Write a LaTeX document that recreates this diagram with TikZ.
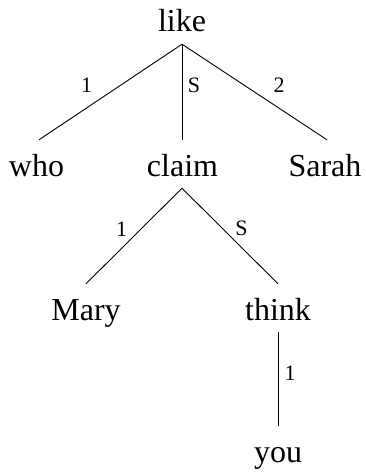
\documentclass[tikz,border=0pt]{standalone}
\usepackage{fontspec}
\setmainfont{Liberation Serif}
\usetikzlibrary{positioning}

\begin{document}
\begin{tikzpicture}
                    [
                        x=1pt, y=-1pt,
                        word/.style = {inner sep=0pt, anchor=base, font=\fontsize{32}{36}\selectfont, text height=36pt, text depth=12pt},
                        lab/.style = {inner sep=0pt, anchor=base, font=\fontsize{22}{24}\selectfont},
                        branch/.style = {line width=0.9pt},
                    ]

                    \useasboundingbox (0,0) rectangle (366,473);

                    \node[word] (like) at (182,32)     {like};

                    \node[word] (who) at (36.5,176)     {who};
                    \node[word] (claim) at (182.5,176)     {claim};
                    \node[word] (sarah) at (325,176)     {Sarah};

                    \node[word] (mary) at (86,320)     {Mary};
                    \node[word] (think) at (278,320)     {think};

                    \node[word] (you) at (278,462)     {you};

                    \node[lab] (likewho) at (86.5,93)     {1};
                    \node[lab] (likeclaim) at (194,93)     {S};
                    \node[lab] (likesarah) at (279,93)     {2};

                    \node[lab] (claimmary) at (121.5,236)     {1};
                    \node[lab] (claimthink) at (241.5,235)     {S};

                    \node[lab] (thinkyou) at (290,380)     {1};

                    \draw [branch] (like.south) -- ([xshift=2.5pt]who.north);
                    \draw [branch] (like.south) -- (like.south |- claim.north);
                    \draw [branch] (like.south) -- ([xshift=2pt]sarah.north);

                    \draw [branch] ([xshift=-0.5pt]claim.south) -- (mary.north);
                    \draw [branch] ([xshift=-0.5pt]claim.south) -- (think.north);

                    \draw [branch] (think.south) -- (you.north);
                \end{tikzpicture}
\end{document}
